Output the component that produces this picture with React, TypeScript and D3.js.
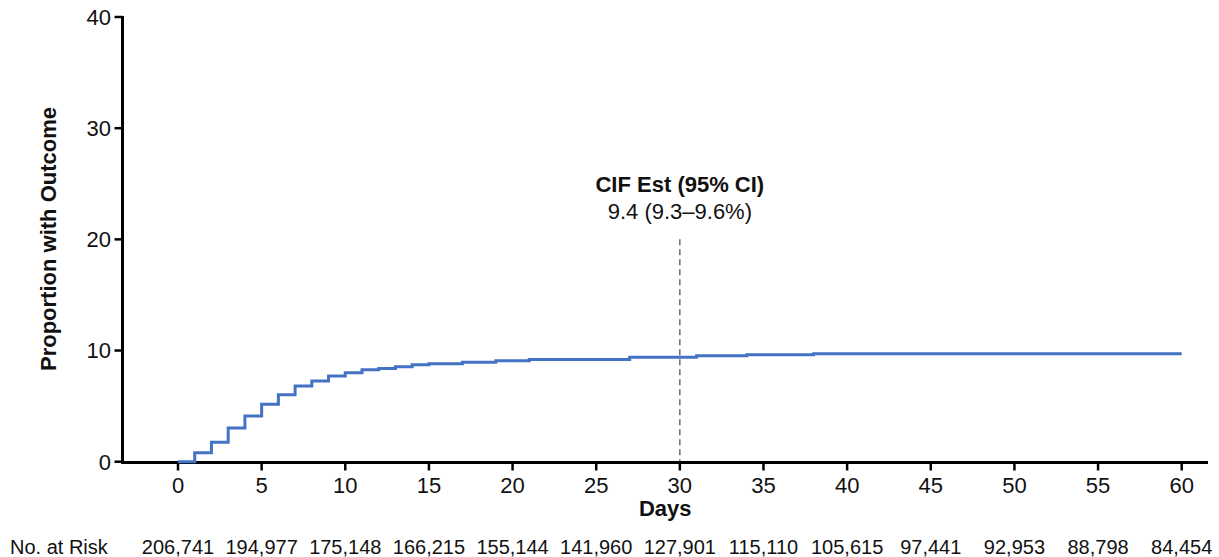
import React from "react";
import * as d3 from "d3";

const stepDays = [0, 1, 2, 3, 4, 5, 6, 7, 8, 9, 10, 11, 12, 13, 14, 15, 17, 19, 21, 27, 31, 34, 38, 60];
const stepValues = [0, 0.8, 1.76, 3.04, 4.12, 5.17, 6.03, 6.8, 7.25, 7.7, 8.0, 8.27, 8.39, 8.54, 8.72, 8.81, 8.95, 9.08, 9.19, 9.4, 9.53, 9.62, 9.7, 9.7];
const xTicks = [0, 5, 10, 15, 20, 25, 30, 35, 40, 45, 50, 55, 60];
const yTicks = [0, 10, 20, 30, 40];
const atRisk = ["206,741", "194,977", "175,148", "166,215", "155,144", "141,960", "127,901", "115,110", "105,615", "97,441", "92,953", "88,798", "84,454"];
const refDay = 30;
const annoTitle = "CIF Est (95% CI)";
const annoValue = "9.4 (9.3–9.6%)";

export default function App() {
  const W = 1219, H = 557;
  const x = d3.scaleLinear().domain([0, 60]).range([178, 1181.7]);
  const y = d3.scaleLinear().domain([0, 40]).range([461.7, 17]);
  const pts: [number, number][] = stepDays.map((d, i) => [d, stepValues[i]]);
  const line = d3.line<[number, number]>().x(d => x(d[0])).y(d => y(d[1])).curve(d3.curveStepAfter);
  const font = "'Liberation Sans', Arial, sans-serif";
  const axisY = 462.5;
  const axisX = 122.5;
  const axisEnd = 1208;
  return (
    <svg width={W} height={H} style={{ position: "absolute", left: 0, top: 0, background: "#fff" }} fontFamily={font}>
      <rect width={W} height={H} fill="#fff" />
      {/* y axis */}
      <line x1={axisX} x2={axisX} y1={y(40) - 1} y2={axisY + 1.5} stroke="#000" strokeWidth={3} />
      {yTicks.map(t => (
        <g key={"y" + t}>
          <line x1={axisX - 8} x2={axisX} y1={y(t)} y2={y(t)} stroke="#000" strokeWidth={2.5} />
          <text x={111} y={y(t)} dy="0.36em" textAnchor="end" fontSize={22} fill="#111">{t}</text>
        </g>
      ))}
      {/* x axis */}
      <line x1={axisX - 1.5} x2={axisEnd} y1={axisY} y2={axisY} stroke="#000" strokeWidth={3} />
      {xTicks.map(t => (
        <g key={"x" + t}>
          <line x1={x(t)} x2={x(t)} y1={axisY} y2={axisY + 8} stroke="#000" strokeWidth={2.5} />
          <text x={x(t)} y={493} textAnchor="middle" fontSize={22} fill="#111">{t}</text>
        </g>
      ))}
      <text x={(axisX + axisEnd) / 2} y={516} textAnchor="middle" fontSize={22} fontWeight="bold" fill="#111">Days</text>
      <text transform={`translate(56,239) rotate(-90)`} textAnchor="middle" fontSize={22} fontWeight="bold" fill="#111">Proportion with Outcome</text>
      {/* reference line */}
      <line x1={x(refDay)} x2={x(refDay)} y1={y(20)} y2={axisY - 1} stroke="#555" strokeWidth={1.3} strokeDasharray="6,4" />
      <text x={x(refDay)} y={192} textAnchor="middle" fontSize={22} fontWeight="bold" fill="#111">{annoTitle}</text>
      <text x={x(refDay)} y={219} textAnchor="middle" fontSize={22} fill="#111">{annoValue}</text>
      {/* curve */}
      <path d={line(pts) || ""} fill="none" stroke="#4472C4" strokeWidth={3} />
      {/* risk table */}
      <text x={10} y={554} fontSize={20} fill="#111">No. at Risk</text>
      {atRisk.map((v, i) => (
        <text key={"r" + i} x={x(xTicks[i])} y={554} textAnchor="middle" fontSize={20} fill="#111">{v}</text>
      ))}
    </svg>
  );
}
